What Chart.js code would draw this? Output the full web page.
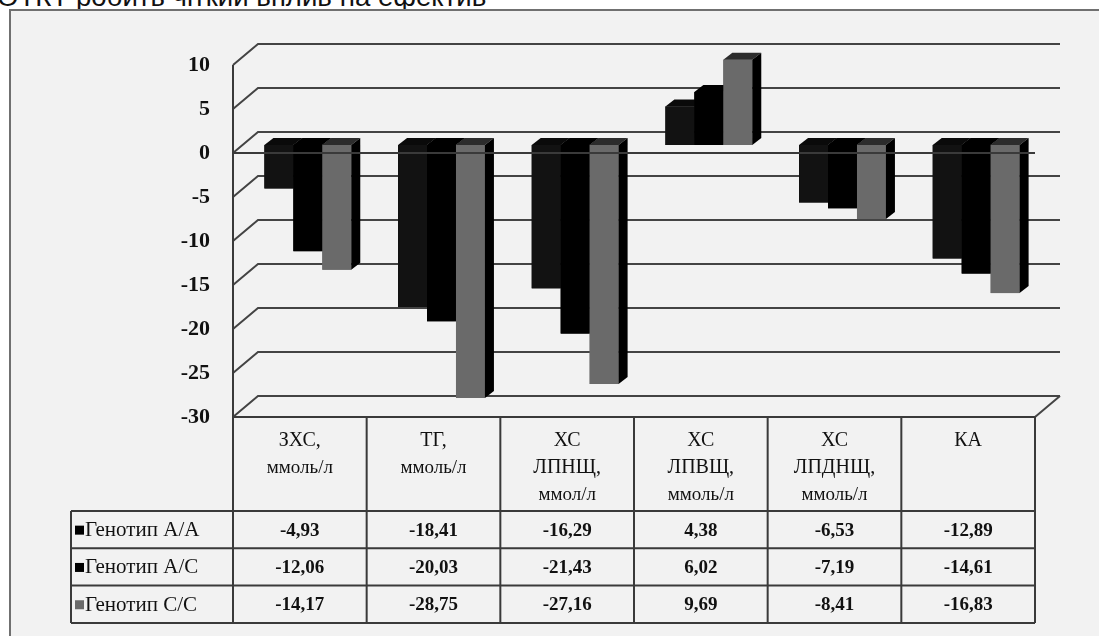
<!DOCTYPE html>
<html>
<head>
<meta charset="utf-8">
<script src="https://cdn.jsdelivr.net/npm/chart.js@4.4.0/dist/chart.umd.min.js"></script>
<style>
  html, body { margin: 0; padding: 0; background: #fff; }
  #wrap { position: relative; width: 1099px; height: 636px; overflow: hidden; }
  #caption {
    position: absolute; left: -3px; top: -17px;
    font: 27.6px/27px "Liberation Sans", Arial, sans-serif; color: #111; white-space: nowrap;
  }
  #box {
    position: absolute; left: 9px; top: 9px; width: 1200px; height: 700px;
    border: 2px solid #707070; background: #f2f2f2;
  }
  #chart { position: absolute; left: 0; top: 0; }
</style>
</head>
<body>
<div id="wrap">
  <div id="caption">ОТКТ робить чіткий вплив на ефектив</div>
  <div id="box"></div>
  <canvas id="chart" width="1099" height="636"></canvas>
</div>
<script>
// категорії (рядки заголовка таблиці)
const categories = [
  ['ЗХС,', 'ммоль/л'],
  ['ТГ,', 'ммоль/л'],
  ['ХС', 'ЛПНЩ,', 'ммол/л'],
  ['ХС', 'ЛПВЩ,', 'ммоль/л'],
  ['ХС', 'ЛПДНЩ,', 'ммоль/л'],
  ['КА']
];
const seriesNames = ['Генотип A/A', 'Генотип A/C', 'Генотип C/C'];
const genotypeAA = [-4.93, -18.41, -16.29, 4.38, -6.53, -12.89];
const genotypeAC = [-12.06, -20.03, -21.43, 6.02, -7.19, -14.61];
const genotypeCC = [-14.17, -28.75, -27.16, 9.69, -8.41, -16.83];
const yMin = -30, yMax = 10, yStep = 5;

const frontColors = ['#121212', '#000000', '#6a6a6a'];
const topColors = ['#0a0a0a', '#000000', '#2c2c2c'];
const keyColors = ['#000', '#000', '#6a6a6a'];
const SERIF = '"Liberation Serif", "Times New Roman", serif';

// зсуви "3D": площина стовпців відносно передньої, задня стінка, глибина стовпця
const BAR_DX = 8, BAR_DY = -8;
const WALL_DX = 25, WALL_DY = -21;
const DEPTH_DX = 9, DEPTH_DY = -7;

const fmt = (v) => v.toFixed(2).replace('.', ',');

const threeD = {
  id: 'threeD',
  beforeDatasetsDraw(chart) {
    const { ctx, chartArea, scales } = chart;
    const y = scales.y;
    const fx0 = chartArea.left - BAR_DX, fx1 = chartArea.right - BAR_DX;
    ctx.save();
    ctx.strokeStyle = '#444';
    ctx.lineWidth = 2;
    y.ticks.forEach((t) => {
      const fy = y.getPixelForValue(t.value) - BAR_DY;
      ctx.beginPath();
      ctx.moveTo(fx0, fy);
      ctx.lineTo(fx0 + WALL_DX, fy + WALL_DY);
      ctx.lineTo(fx1 + WALL_DX, fy + WALL_DY);
      ctx.stroke();
    });
    // права грань підлоги
    const floorY = y.getPixelForValue(yMin) - BAR_DY;
    ctx.beginPath();
    ctx.moveTo(fx1, floorY);
    ctx.lineTo(fx1 + WALL_DX, floorY + WALL_DY);
    ctx.stroke();
    ctx.restore();
  },
  afterDatasetsDraw(chart) {
    const { ctx, chartArea, scales } = chart;
    const y = scales.y;
    const zero = y.getPixelForValue(0);
    ctx.save();
    // стовпці з гранями, по порядку серій
    chart.data.datasets.forEach((ds, i) => {
      const meta = chart.getDatasetMeta(i);
      meta.data.forEach((bar) => {
        const p = bar.getProps(['x', 'y', 'base', 'width'], true);
        const l = p.x - p.width / 2, r = p.x + p.width / 2;
        const top = Math.min(p.y, p.base), bot = Math.max(p.y, p.base);
        ctx.fillStyle = frontColors[i];
        ctx.fillRect(l, top, r - l, bot - top);
        ctx.fillStyle = topColors[i];
        ctx.beginPath();
        ctx.moveTo(l, top);
        ctx.lineTo(r, top);
        ctx.lineTo(r + DEPTH_DX, top + DEPTH_DY);
        ctx.lineTo(l + DEPTH_DX, top + DEPTH_DY);
        ctx.closePath();
        ctx.fill();
        ctx.fillStyle = '#000';
        ctx.beginPath();
        ctx.moveTo(r, top);
        ctx.lineTo(r + DEPTH_DX, top + DEPTH_DY);
        ctx.lineTo(r + DEPTH_DX, bot + DEPTH_DY);
        ctx.lineTo(r, bot);
        ctx.closePath();
        ctx.fill();
      });
    });

    const fx0 = chartArea.left - BAR_DX, fx1 = chartArea.right - BAR_DX;
    const colW = (fx1 - fx0) / categories.length;
    const frontZero = zero - BAR_DY;
    const frontTop = y.getPixelForValue(yMax) - BAR_DY;
    const headTop = y.getPixelForValue(yMin) - BAR_DY;
    const headBot = headTop + 94;
    const rowH = 37.3;
    const tableBot = headBot + rowH * seriesNames.length;
    const legendX = 71;

    ctx.strokeStyle = '#3a3a3a';
    ctx.lineWidth = 2;
    // передня лінія нуля
    ctx.beginPath();
    ctx.moveTo(fx0, frontZero);
    ctx.lineTo(fx1, frontZero);
    ctx.stroke();
    // вісь та таблиця
    ctx.beginPath();
    ctx.moveTo(fx0, frontTop);
    ctx.lineTo(fx0, tableBot);
    ctx.moveTo(fx0, headTop);
    ctx.lineTo(fx1, headTop);
    for (let k = 0; k <= seriesNames.length; k++) {
      const yy = headBot + rowH * k;
      ctx.moveTo(legendX, yy);
      ctx.lineTo(fx1, yy);
    }
    ctx.moveTo(legendX, headBot);
    ctx.lineTo(legendX, tableBot);
    for (let c = 1; c <= categories.length; c++) {
      ctx.moveTo(fx0 + colW * c, headTop);
      ctx.lineTo(fx0 + colW * c, tableBot);
    }
    ctx.stroke();

    // заголовки стовпців
    ctx.fillStyle = '#111';
    ctx.textAlign = 'center';
    ctx.textBaseline = 'middle';
    categories.forEach((lines, c) => {
      const cx = fx0 + colW * (c + 0.5);
      lines.forEach((txt, k) => {
        ctx.font = txt.startsWith('ммол') ? '19px ' + SERIF : '20px ' + SERIF;
        ctx.fillText(txt, cx, headTop + 24 + k * 27);
      });
    });

    // значення та легенда
    const series = [genotypeAA, genotypeAC, genotypeCC];
    series.forEach((vals, s) => {
      const cy = headBot + rowH * (s + 0.5);
      ctx.font = 'bold 19px ' + SERIF;
      ctx.textAlign = 'center';
      ctx.fillStyle = '#111';
      vals.forEach((v, c) => {
        ctx.fillText(fmt(v), fx0 + colW * (c + 0.5), cy + 1);
      });
      ctx.fillStyle = keyColors[s];
      ctx.fillRect(legendX + 4, cy - 4, 9, 9);
      ctx.fillStyle = '#111';
      ctx.textAlign = 'left';
      ctx.font = '21px ' + SERIF;
      ctx.fillText(seriesNames[s], legendX + 14, cy + 1);
    });
    ctx.restore();
  }
};

new Chart(document.getElementById('chart'), {
  type: 'bar',
  data: {
    labels: categories,
    datasets: [
      { label: seriesNames[0], data: genotypeAA, backgroundColor: frontColors[0] },
      { label: seriesNames[1], data: genotypeAC, backgroundColor: frontColors[1] },
      { label: seriesNames[2], data: genotypeCC, backgroundColor: frontColors[2] }
    ]
  },
  options: {
    responsive: false,
    animation: false,
    events: [],
    layout: { padding: { left: 0, top: 57, right: 56, bottom: 227 } },
    datasets: { bar: { categoryPercentage: 0.65, barPercentage: 1, borderWidth: 0 } },
    plugins: { legend: { display: false }, tooltip: { enabled: false } },
    scales: {
      x: { display: false },
      y: {
        min: yMin,
        max: yMax,
        afterFit: (scale) => { scale.width = 241; },
        border: { display: false },
        grid: { display: false },
        ticks: {
          stepSize: yStep,
          padding: 23,
          labelOffset: 8,
          color: '#111',
          font: { family: SERIF, size: 22, weight: 'bold' }
        }
      }
    }
  },
  plugins: [threeD]
});
</script>
</body>
</html>
